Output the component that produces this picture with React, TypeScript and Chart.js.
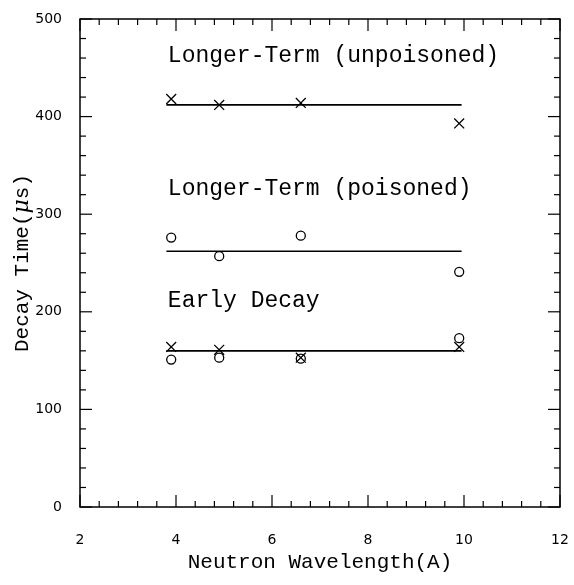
import React, { useEffect, useRef } from 'react';
import { Chart, registerables } from 'chart.js';

Chart.register(...registerables);

// ---- data ----
const wavelengths = [3.9, 4.9, 6.6, 9.9];
const unpoisoned = [418, 412, 414, 393];
const poisoned = [276, 257, 278, 241];
const earlyCross = [164, 161, 153, 164];
const earlyCircle = [151, 153, 152, 173];
const fitRange = [3.8, 9.95];
const fitUnpoisoned = 412;
const fitPoisoned = 262;
const fitEarly = 160;
const xTickLabels = [2, 4, 6, 8, 10, 12];
const yTickLabels = [0, 100, 200, 300, 400, 500];
const seriesLabels = ['Longer-Term (unpoisoned)', 'Longer-Term (poisoned)', 'Early Decay'];
const seriesLabelX = 3.83;
const seriesLabelY = [462, 326, 211];

const MONO = '"Liberation Mono", "DejaVu Sans Mono", monospace';
const NUM = '"DejaVu Sans", sans-serif';

const framePlugin = {
  id: 'frameTicks',
  afterDraw(chart: any) {
    const { ctx, chartArea } = chart;
    const { left, right, top, bottom } = chartArea;
    const xs = chart.scales.x;
    const ys = chart.scales.y;
    ctx.save();
    ctx.strokeStyle = '#000';
    ctx.lineWidth = 1.5;
    ctx.strokeRect(left, top, right - left, bottom - top);
    ctx.lineWidth = 1.2;
    const seg = (x1: number, y1: number, x2: number, y2: number) => {
      ctx.beginPath();
      ctx.moveTo(x1, y1);
      ctx.lineTo(x2, y2);
      ctx.stroke();
    };
    // x ticks every 0.4, major every 2
    for (let i = 0; i <= 25; i++) {
      const v = 2 + i * 0.4;
      const px = xs.getPixelForValue(v);
      const major = i % 5 === 0;
      const len = major ? 12 : 6;
      seg(px, bottom, px, bottom - len);
      seg(px, top, px, top + len);
    }
    // y ticks every 20, major every 100
    for (let i = 0; i <= 25; i++) {
      const v = i * 20;
      const py = ys.getPixelForValue(v);
      const major = i % 5 === 0;
      const len = major ? 12 : 6;
      seg(left, py, left + len, py);
      seg(right, py, right - len, py);
    }
    // series labels
    ctx.fillStyle = '#000';
    ctx.font = `23px ${MONO}`;
    ctx.textBaseline = 'middle';
    ctx.textAlign = 'left';
    seriesLabels.forEach((t, i) => {
      ctx.fillText(t, xs.getPixelForValue(seriesLabelX), ys.getPixelForValue(seriesLabelY[i]));
    });
    // y axis title with italic mu
    const parts = [
      { t: 'Decay Time(', f: `21px ${MONO}` },
      { t: 'μ', f: `italic 22px "DejaVu Serif", serif` },
      { t: 's)', f: `21px ${MONO}` },
    ];
    let total = 0;
    parts.forEach((p) => {
      ctx.font = p.f;
      total += ctx.measureText(p.t).width;
    });
    const cy = (top + bottom) / 2;
    ctx.translate(22, cy);
    ctx.rotate(-Math.PI / 2);
    let cx = -total / 2;
    parts.forEach((p) => {
      ctx.font = p.f;
      ctx.fillText(p.t, cx, 0);
      cx += ctx.measureText(p.t).width;
    });
    ctx.restore();
  },
};

export default function App() {
  const ref = useRef<HTMLCanvasElement | null>(null);
  useEffect(() => {
    if (!ref.current) return;
    const pts = (ys: number[]) => wavelengths.map((x, i) => ({ x, y: ys[i] }));
    const fit = (v: number) => fitRange.map((x) => ({ x, y: v }));
    const markerBase = {
      type: 'scatter' as const,
      showLine: false,
      borderColor: '#000',
      backgroundColor: 'rgba(0,0,0,0)',
      borderWidth: 1.3,
    };
    const lineBase = {
      type: 'line' as const,
      showLine: true,
      borderColor: '#000',
      borderWidth: 1.6,
      pointRadius: 0,
      fill: false,
    };
    const chart = new Chart(ref.current, {
      type: 'scatter',
      data: {
        datasets: [
          { ...lineBase, label: 'fit unpoisoned', data: fit(fitUnpoisoned) },
          { ...lineBase, label: 'fit poisoned', data: fit(fitPoisoned) },
          { ...lineBase, label: 'fit early', data: fit(fitEarly) },
          { ...markerBase, label: 'unpoisoned', data: pts(unpoisoned), pointStyle: 'crossRot', pointRadius: 7 },
          { ...markerBase, label: 'poisoned', data: pts(poisoned), pointStyle: 'circle', pointRadius: 4.5 },
          { ...markerBase, label: 'early x', data: pts(earlyCross), pointStyle: 'crossRot', pointRadius: 7 },
          { ...markerBase, label: 'early o', data: pts(earlyCircle), pointStyle: 'circle', pointRadius: 4.5 },
        ] as any,
      },
      options: {
        animation: false,
        responsive: false,
        maintainAspectRatio: false,
        layout: { padding: { top: 19, right: 14, left: 0, bottom: 0 } },
        plugins: { legend: { display: false }, tooltip: { enabled: false } },
        scales: {
          x: {
            type: 'linear',
            min: 2,
            max: 12,
            grid: { display: false, drawTicks: false },
            border: { display: false },
            afterBuildTicks: (s: any) => {
              s.ticks = xTickLabels.map((v) => ({ value: v }));
            },
            afterFit: (s: any) => {
              s.height = 78;
              s.paddingLeft = 0;
              s.paddingRight = 0;
            },
            ticks: {
              padding: 25,
              color: '#000',
              font: { family: NUM, size: 14 },
              maxRotation: 0,
            },
            title: {
              display: true,
              text: 'Neutron Wavelength(A)',
              color: '#000',
              font: { family: MONO, size: 21 },
              padding: { top: 0, bottom: 10 },
            },
          },
          y: {
            type: 'linear',
            min: 0,
            max: 500,
            grid: { display: false, drawTicks: false },
            border: { display: false },
            afterBuildTicks: (s: any) => {
              s.ticks = yTickLabels.map((v) => ({ value: v }));
            },
            afterFit: (s: any) => {
              s.width = 80;
              s.paddingTop = 0;
              s.paddingBottom = 0;
            },
            ticks: {
              padding: 18,
              color: '#000',
              font: { family: NUM, size: 14 },
            },
          },
        },
      },
      plugins: [framePlugin],
    });
    return () => chart.destroy();
  }, []);
  return (
    <div style={{ position: 'absolute', left: 0, top: 0, width: 574, height: 585, background: '#fff' }}>
      <canvas ref={ref} width={574} height={585} style={{ width: 574, height: 585 }} />
    </div>
  );
}
